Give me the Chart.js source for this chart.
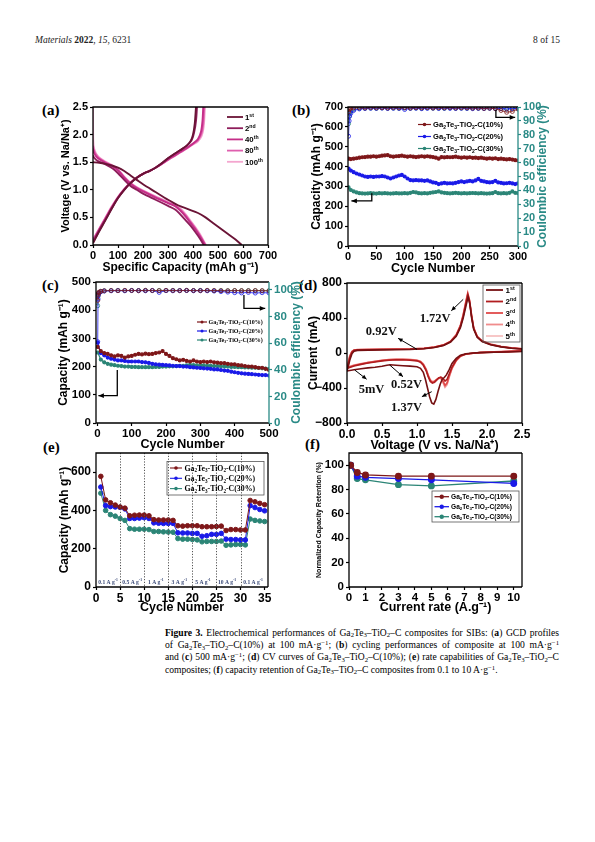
<!DOCTYPE html>
<html><head><meta charset="utf-8">
<title>Figure 3 – Ga2Te3–TiO2–C</title>
<script src="https://cdn.jsdelivr.net/npm/chart.js@4/dist/chart.umd.min.js"></script>
<style>
html,body{margin:0;padding:0;background:#fff;}
body{width:595px;height:842px;position:relative;overflow:hidden;}
canvas{position:absolute;}
.hdr{position:absolute;top:35px;font-family:"Liberation Serif",serif;font-size:9.5px;color:#222;white-space:nowrap;}
.pl{position:absolute;font-family:"Liberation Serif",serif;font-weight:bold;font-size:15px;line-height:15px;color:#000;}
.cap{position:absolute;left:165px;width:394px;top:626.5px;font-family:"Liberation Serif",serif;font-size:9.6px;color:#000;}
.ln{height:12.4px;line-height:12.4px;white-space:nowrap;}
sub,sup{font-size:70%;line-height:0;position:relative;vertical-align:baseline;}
sup{top:-0.45em;} sub{top:0.25em;}
</style>
</head><body>
<div class="hdr" style="left:35px"><i>Materials</i> <b>2022</b>, <i>15</i>, 6231</div>
<div class="hdr" style="right:35px">8 of 15</div>

<div class="pl" style="left:42px;top:103px">(a)</div>
<div class="pl" style="left:292px;top:103px">(b)</div>
<div class="pl" style="left:42px;top:278px">(c)</div>
<div class="pl" style="left:299px;top:278px">(d)</div>
<div class="pl" style="left:43px;top:440px">(e)</div>
<div class="pl" style="left:305px;top:437px">(f)</div>

<div class="cap" id="cap">
<div class="ln j"><b>Figure 3.</b> Electrochemical performances of Ga<sub>2</sub>Te<sub>3</sub>–TiO<sub>2</sub>–C composites for SIBs: (<b>a</b>) GCD profiles</div>
<div class="ln j">of Ga<sub>2</sub>Te<sub>3</sub>–TiO<sub>2</sub>–C(10%) at 100 mA·g<sup>−1</sup>; (<b>b</b>) cycling performances of composite at 100 mA·g<sup>−1</sup></div>
<div class="ln j">and (<b>c</b>) 500 mA·g<sup>−1</sup>; (<b>d</b>) CV curves of Ga<sub>2</sub>Te<sub>3</sub>–TiO<sub>2</sub>–C(10%); (<b>e</b>) rate capabilities of Ga<sub>2</sub>Te<sub>3</sub>–TiO<sub>2</sub>–C</div>
<div class="ln">composites; (<b>f</b>) capacity retention of Ga<sub>2</sub>Te<sub>3</sub>–TiO<sub>2</sub>–C composites from 0.1 to 10 A·g<sup>−1</sup>.</div>
</div>

<script>
// ================= DATA =================
// (a) GCD profiles: [capacity mAh/g, voltage V]
const gcdLabels = ['1^{st}','2^{nd}','40^{th}','80^{th}','100^{th}'];
const dis1 = [[0,1.50],[25,1.49],[50,1.47],[75,1.44],[100,1.40],[125,1.34],[150,1.26],[175,1.18],[200,1.10],[250,0.96],[300,0.82],[340,0.72],[380,0.65],[420,0.58],[450,0.50],[480,0.40],[510,0.30],[540,0.20],[570,0.10],[595,0.0]];
const chg1 = [[0,0.03],[10,0.12],[25,0.25],[50,0.45],[75,0.66],[100,0.85],[125,1.00],[150,1.12],[175,1.22],[200,1.29],[225,1.34],[250,1.40],[275,1.48],[300,1.57],[325,1.65],[350,1.72],[375,1.80],[390,1.88],[400,2.00],[407,2.20],[412,2.50]];
const dis2 = [[0,1.62],[5,1.58],[20,1.52],[50,1.46],[80,1.38],[100,1.30],[125,1.18],[150,1.07],[175,1.00],[200,0.93],[250,0.82],[300,0.71],[330,0.64],[350,0.55],[370,0.45],[390,0.35],[410,0.23],[430,0.10],[443,0.0]];
const chg2 = [[0,0.05],[10,0.13],[25,0.26],[50,0.46],[75,0.66],[100,0.85],[125,1.00],[150,1.12],[175,1.22],[200,1.29],[225,1.34],[250,1.40],[275,1.48],[300,1.57],[325,1.65],[350,1.72],[375,1.80],[395,1.90],[405,2.05],[412,2.25],[416,2.50]];
const dis40 = [[0,1.75],[5,1.66],[20,1.57],[50,1.49],[80,1.42],[100,1.35],[125,1.22],[150,1.11],[175,1.03],[200,0.97],[250,0.86],[300,0.76],[330,0.70],[350,0.62],[370,0.52],[390,0.40],[410,0.28],[430,0.14],[448,0.0]];
const chg40 = [[0,0.08],[10,0.16],[25,0.28],[50,0.48],[75,0.68],[100,0.86],[125,1.01],[150,1.13],[175,1.22],[200,1.29],[225,1.34],[250,1.40],[275,1.47],[300,1.55],[325,1.62],[350,1.69],[375,1.76],[400,1.84],[420,1.92],[432,2.05],[438,2.25],[441,2.50]];
const dis80 = [[0,1.80],[5,1.70],[20,1.59],[50,1.50],[80,1.43],[100,1.36],[125,1.23],[150,1.12],[175,1.04],[200,0.98],[250,0.87],[300,0.77],[330,0.71],[350,0.64],[370,0.54],[390,0.42],[410,0.30],[430,0.16],[450,0.0]];
const chg80 = [[0,0.09],[10,0.17],[25,0.29],[50,0.49],[75,0.69],[100,0.87],[125,1.01],[150,1.13],[175,1.22],[200,1.29],[225,1.34],[250,1.40],[275,1.47],[300,1.54],[325,1.61],[350,1.68],[375,1.75],[400,1.83],[420,1.90],[434,2.02],[441,2.20],[445,2.50]];
const dis100 = [[0,2.50],[1,1.90],[5,1.74],[20,1.61],[50,1.51],[80,1.44],[100,1.37],[125,1.24],[150,1.13],[175,1.05],[200,0.99],[250,0.88],[300,0.78],[330,0.72],[350,0.66],[370,0.56],[390,0.44],[410,0.32],[430,0.18],[452,0.0]];
const chg100 = [[0,0.10],[10,0.18],[25,0.30],[50,0.50],[75,0.70],[100,0.87],[125,1.01],[150,1.13],[175,1.22],[200,1.29],[225,1.34],[250,1.40],[275,1.47],[300,1.54],[325,1.61],[350,1.68],[375,1.75],[400,1.82],[420,1.88],[435,1.98],[443,2.15],[448,2.50]];
const ticksAx = [0,100,200,300,400,500,600,700];
const ticksAy = [0,0.5,1.0,1.5,2.0,2.5];

// series names used in (b), (c), (e), (f)
const seriesLabels = ['Ga_{2}Te_{3}-TiO_{2}-C(10%)','Ga_{2}Te_{3}-TiO_{2}-C(20%)','Ga_{2}Te_{3}-TiO_{2}-C(30%)'];

// (b) cycling at 100 mA/g
const cycB = [1,5,10,15,20,25,30,35,40,45,50,55,60,65,70,75,80,85,90,95,100,105,110,115,120,125,130,135,140,145,150,155,160,165,170,175,180,185,190,195,200,205,210,215,220,225,230,235,240,245,250,255,260,265,270,275,280,285,290,295,300];
const capB10 = [440,438,440,442,445,447,448,450,450,452,450,452,455,456,458,452,450,452,453,455,452,450,452,450,448,450,452,450,452,450,448,445,440,448,446,448,447,448,450,447,445,447,445,447,444,445,443,445,442,440,442,440,442,438,440,438,436,438,435,432,430];
const capB20 = [390,380,372,365,360,355,350,348,350,348,350,350,352,350,345,340,345,350,355,358,350,340,332,330,332,330,330,328,330,325,320,318,312,315,318,315,316,315,318,322,325,322,325,328,325,330,338,328,325,322,320,322,328,320,318,315,316,318,315,312,315];
const capB30 = [295,282,275,270,266,265,264,265,266,265,264,266,265,266,265,264,265,266,265,265,266,265,268,272,270,266,265,266,265,268,270,272,275,270,268,266,265,266,268,266,265,266,265,266,267,266,265,266,265,264,265,266,272,266,265,266,265,268,275,268,266];
const ceCycB = [1,2,3,5,10,20,30,40,50,60,70,80,90,100,110,120,130,140,150,160,170,180,190,200,210,220,230,240,250,260,270,280,290,300];
const ceB10 = [96.5,98.2,98.8,99.2,99.4,99.5,99.3,99.6,99.4,99.5,99.3,99.6,99.4,99.5,99.3,99.5,99.4,99.6,99.3,99.5,99.4,99.6,99.3,99.5,99.4,99.2,99.3,99.0,99.2,98.8,97.5,96.2,96.8,98.5];
const ceB20 = [79,90,93.5,95.5,97.5,98.6,98.9,99.1,99.0,99.2,98.9,99.1,99.0,98.2,99.0,99.1,98.8,99.0,99.2,98.9,99.1,99.0,98.9,99.1,99.0,98.8,99.0,98.9,99.1,98.8,99.0,98.6,98.9,99.0];
const ceB30 = [88,93,95.5,96.8,98.2,98.9,99.1,99.2,99.0,99.3,99.1,99.2,99.0,99.3,99.1,99.2,99.0,99.3,99.1,99.2,99.0,99.3,99.1,99.2,99.0,99.2,99.1,99.0,99.2,99.0,98.8,98.4,98.9,99.1];
const ticksBx = [0,50,100,150,200,250,300];
const ticksBy = [0,100,200,300,400,500,600,700];
const ticksBy2 = [0,10,20,30,40,50,60,70,80,90,100];

// (c) cycling at 500 mA/g
const cycC = [1,10,20,30,40,50,60,70,80,90,100,110,120,130,140,150,160,170,180,190,200,210,220,230,240,250,260,270,280,290,300,310,320,330,340,350,360,370,380,390,400,410,420,430,440,450,460,470,480,490,500];
const capC10 = [270,255,248,245,240,236,240,238,232,236,238,242,245,243,246,244,245,248,250,255,245,238,230,226,222,224,220,218,222,218,216,218,216,218,215,214,212,212,210,208,208,205,204,202,200,200,198,196,196,192,188];
const capC20 = [285,248,240,232,228,225,222,222,220,218,218,218,218,216,215,213,210,208,207,206,205,204,203,202,202,200,200,198,197,196,195,194,193,192,190,190,188,186,185,182,180,178,176,175,174,173,172,171,170,170,168];
const capC30 = [250,225,215,210,207,205,203,202,200,200,199,199,198,198,198,198,198,199,199,200,200,201,201,202,203,203,204,206,205,204,204,204,203,203,202,202,201,200,200,199,199,198,198,197,197,196,196,195,194,193,192];
const ceCycC = [1,2,3,5,10,20,40,60,80,100,120,140,160,180,200,220,240,260,280,300,320,340,360,380,400,420,440,460,480,500];
const ceC10 = [92,96,97.5,98.2,98.8,99.2,99.4,99.3,99.5,99.4,99.3,99.5,99.4,99.3,99.5,99.4,99.3,99.5,99.4,99.3,99.5,99.4,99.3,99.2,99.4,99.3,99.2,99.4,99.3,99.2];
const ceC20 = [61,93,96,97.5,98.5,99.0,99.2,99.3,99.2,99.4,99.3,99.2,99.4,98.0,99.3,99.2,99.3,99.4,99.2,99.3,99.2,99.0,98.6,98.2,97.8,97.6,98.0,97.5,97.8,97.6];
const ceC30 = [88,95,97,98,98.8,99.2,99.4,99.5,99.4,99.5,99.4,99.5,99.4,99.5,99.4,99.5,99.4,99.5,99.4,99.5,99.4,99.3,99.4,99.3,99.4,99.3,99.4,99.3,99.2,99.3];
const ticksCx = [0,100,200,300,400,500];
const ticksCy = [0,100,200,300,400,500];
const ticksCy2 = [0,20,40,60,80,100];

// (d) CV curves: [voltage V, current mA]
const cvLabels = ['1^{st}','2^{nd}','3^{rd}','4^{th}','5^{th}'];
const cv1 = [[2.5,18],[2.3,12],[2.1,8],[1.9,4],[1.8,0],[1.7,-8],[1.62,-25],[1.56,-60],[1.5,-120],[1.46,-190],[1.42,-250],[1.39,-280],[1.36,-300],[1.33,-360],[1.30,-440],[1.27,-530],[1.24,-585],[1.21,-570],[1.18,-500],[1.15,-400],[1.12,-300],[1.09,-220],[1.05,-175],[1.0,-158],[0.9,-150],[0.8,-145],[0.7,-140],[0.62,-135],[0.57,-140],[0.5,-152],[0.4,-162],[0.3,-170],[0.2,-180],[0.1,-192],[0.0,-205],[0.02,-150],[0.04,-80],[0.07,-10],[0.1,20],[0.15,30],[0.3,33],[0.5,36],[0.7,38],[0.9,40],[1.1,48],[1.25,62],[1.38,85],[1.48,125],[1.56,190],[1.62,290],[1.66,400],[1.7,540],[1.73,640],[1.755,560],[1.78,400],[1.81,270],[1.86,180],[1.93,130],[2.05,95],[2.2,70],[2.35,55],[2.5,45]];
const cv2 = [[2.5,22],[2.3,16],[2.1,10],[1.9,4],[1.8,-2],[1.7,-12],[1.62,-35],[1.56,-80],[1.5,-160],[1.46,-240],[1.43,-300],[1.40,-320],[1.37,-290],[1.34,-275],[1.31,-285],[1.28,-310],[1.25,-335],[1.22,-345],[1.19,-325],[1.16,-270],[1.13,-200],[1.09,-140],[1.05,-105],[1.0,-90],[0.9,-82],[0.8,-78],[0.7,-78],[0.6,-82],[0.5,-90],[0.4,-102],[0.3,-115],[0.2,-130],[0.1,-148],[0.0,-175],[0.02,-120],[0.04,-50],[0.07,10],[0.1,30],[0.15,36],[0.3,38],[0.5,40],[0.7,42],[0.9,44],[1.1,52],[1.25,66],[1.38,90],[1.48,130],[1.56,200],[1.62,305],[1.66,420],[1.7,570],[1.725,665],[1.75,590],[1.78,420],[1.81,280],[1.86,185],[1.93,135],[2.05,98],[2.2,72],[2.35,56],[2.5,46]];
const cv3 = [[2.5,24],[2.3,18],[2.1,12],[1.9,5],[1.8,-2],[1.7,-12],[1.62,-35],[1.56,-85],[1.5,-170],[1.46,-260],[1.43,-340],[1.40,-370],[1.37,-320],[1.34,-280],[1.31,-285],[1.28,-305],[1.25,-325],[1.22,-335],[1.19,-315],[1.16,-260],[1.13,-190],[1.09,-130],[1.05,-100],[1.0,-85],[0.9,-78],[0.8,-74],[0.7,-74],[0.6,-78],[0.5,-86],[0.4,-98],[0.3,-110],[0.2,-125],[0.1,-143],[0.0,-170],[0.02,-110],[0.04,-40],[0.07,15],[0.1,32],[0.15,38],[0.3,40],[0.5,42],[0.7,43],[0.9,45],[1.1,53],[1.25,67],[1.38,92],[1.48,132],[1.56,205],[1.62,310],[1.66,430],[1.7,585],[1.725,675],[1.75,600],[1.78,425],[1.81,285],[1.86,188],[1.93,137],[2.05,100],[2.2,74],[2.35,58],[2.5,48]];
const cv4 = [[2.5,26],[2.3,19],[2.1,13],[1.9,6],[1.8,-2],[1.7,-12],[1.62,-36],[1.56,-88],[1.5,-175],[1.46,-270],[1.43,-355],[1.40,-385],[1.37,-330],[1.34,-285],[1.31,-288],[1.28,-305],[1.25,-322],[1.22,-330],[1.19,-310],[1.16,-255],[1.13,-185],[1.09,-125],[1.05,-96],[1.0,-82],[0.9,-75],[0.8,-72],[0.7,-72],[0.6,-76],[0.5,-84],[0.4,-96],[0.3,-108],[0.2,-122],[0.1,-140],[0.0,-166],[0.02,-105],[0.04,-35],[0.07,18],[0.1,34],[0.15,39],[0.3,41],[0.5,43],[0.7,44],[0.9,46],[1.1,54],[1.25,68],[1.38,93],[1.48,134],[1.56,208],[1.62,315],[1.66,438],[1.7,595],[1.725,685],[1.75,605],[1.78,430],[1.81,288],[1.86,190],[1.93,138],[2.05,101],[2.2,75],[2.35,59],[2.5,49]];
const cv5 = [[2.5,28],[2.3,20],[2.1,14],[1.9,6],[1.8,-2],[1.7,-13],[1.62,-38],[1.56,-92],[1.5,-180],[1.46,-280],[1.43,-365],[1.40,-395],[1.37,-338],[1.34,-290],[1.31,-290],[1.28,-305],[1.25,-318],[1.22,-325],[1.19,-305],[1.16,-250],[1.13,-180],[1.09,-122],[1.05,-94],[1.0,-80],[0.9,-73],[0.8,-70],[0.7,-70],[0.6,-74],[0.5,-82],[0.4,-94],[0.3,-106],[0.2,-120],[0.1,-138],[0.0,-162],[0.02,-100],[0.04,-30],[0.07,20],[0.1,35],[0.15,40],[0.3,42],[0.5,44],[0.7,45],[0.9,47],[1.1,55],[1.25,69],[1.38,94],[1.48,136],[1.56,210],[1.62,320],[1.66,445],[1.7,600],[1.725,690],[1.75,610],[1.78,435],[1.81,290],[1.86,192],[1.93,140],[2.05,102],[2.2,76],[2.35,60],[2.5,50]];
const ticksDx = [0,0.5,1.0,1.5,2.0,2.5];
const ticksDy = [-800,-400,0,400,800];
const cvNotes = [{x:1.26,y:400,t:'1.72V'},{x:0.49,y:260,t:'0.92V'},{x:0.35,y:-405,t:'5mV'},{x:0.85,y:-345,t:'0.52V'},{x:0.85,y:-612,t:'1.37V'}];
const cvArrows = [[[1.66,613],[1.49,483]],[[1.0,42],[0.73,168]],[[0.11,-194],[0.28,-300]],[[0.61,-137],[0.80,-271]],[[1.21,-442],[1.07,-499]]];

// (e) rate capability
const cycE = [1,2,3,4,5,6,7,8,9,10,11,12,13,14,15,16,17,18,19,20,21,22,23,24,25,26,27,28,29,30,31,32,33,34,35];
const rateE10 = [578,455,440,428,418,412,372,375,376,376,372,352,350,350,350,348,320,318,320,320,320,315,315,315,316,318,295,300,300,298,298,452,445,437,430];
const rateE20 = [522,425,420,418,416,408,358,358,360,362,358,335,333,332,332,332,283,282,282,280,280,265,268,275,275,280,250,248,248,246,246,425,415,405,398];
const rateE30 = [490,400,378,370,358,348,305,302,302,302,300,290,290,288,287,286,253,250,250,248,246,236,238,238,238,240,218,220,222,222,220,355,348,345,342];
const rateDividers = [5,10,15,20,25,30];
const rateNames = ['0.1 A g^{-1}','0.5 A g^{-1}','1 A g^{-1}','3 A g^{-1}','5 A g^{-1}','10 A g^{-1}','0.1 A g^{-1}'];
const rateNameX = [2.5,7.5,12.4,17.3,22.2,27.2,32.6];
const ticksEx = [0,5,10,15,20,25,30,35];
const ticksEy = [0,200,400,600];

// (f) capacity retention
const rateF = [0.1,0.5,1,3,5,10];
const retF10 = [100,94,92,91,91,91];
const retF20 = [100,91,90,89,88,85];
const retF30 = [100,89,88,84,83,87];
const ticksFx = [0,1,2,3,4,5,6,7,8,9,10];
const ticksFy = [0,20,40,60,80,100];

// ================= STYLE / HELPERS =================
const C10 = '#7e1719', C20 = '#1a1ae8', C30 = '#2b8576', TEAL = '#2a8a86';
const gcdColors = ['#6a1436','#8e1d5b','#c52e88','#df5fae','#f4a6cf'];
const cvColors = ['#751012','#b11d1f','#e04a4a','#f08c8c','#f7c1c1'];
const SANS = '"Liberation Sans", Arial, sans-serif';
const SERIF = '"Liberation Serif", "Times New Roman", serif';
Chart.defaults.font.family = SANS;
Chart.defaults.font.weight = 'bold';
Chart.defaults.color = '#000';

const P = arr => arr.map(p => ({x:p[0], y:p[1]}));
const XY = (xs, ys) => xs.map((x,i) => ({x, y:ys[i]}));

function rich(ctx, str, x, y, o){
  const parts=[]; const re=/([_^])\{([^}]*)\}/g; let last=0, m;
  while((m=re.exec(str))){ if(m.index>last) parts.push({t:str.slice(last,m.index),k:''}); parts.push({t:m[2],k:m[1]}); last=re.lastIndex; }
  if(last<str.length) parts.push({t:str.slice(last),k:''});
  const f = k => `${o.weight||'bold'} ${(k?o.size*0.66:o.size).toFixed(2)}px ${o.family||SANS}`;
  let tw=0; parts.forEach(p=>{ctx.font=f(p.k); p.w=ctx.measureText(p.t).width; tw+=p.w;});
  let cx = o.align==='center' ? x-tw/2 : (o.align==='right' ? x-tw : x);
  ctx.fillStyle=o.color||'#000'; ctx.textAlign='left'; ctx.textBaseline='alphabetic';
  parts.forEach(p=>{ctx.font=f(p.k); const dy = p.k==='^' ? -o.size*0.38 : (p.k==='_' ? o.size*0.22 : 0); ctx.fillText(p.t, cx, y+o.size*0.35+dy); cx+=p.w;});
}
function head(ctx,x1,y1,x2,y2,s){
  const a=Math.atan2(y2-y1,x2-x1);
  ctx.beginPath(); ctx.moveTo(x2,y2);
  ctx.lineTo(x2-s*Math.cos(a-0.42), y2-s*Math.sin(a-0.42));
  ctx.lineTo(x2-s*Math.cos(a+0.42), y2-s*Math.sin(a+0.42));
  ctx.closePath(); ctx.fill();
}

const deco = {
  id:'deco',
  afterDatasetsDraw(chart){
    const d = chart.canvas.$deco; if(!d) return;
    const ctx = chart.ctx, a = chart.chartArea, sx = chart.scales.x;
    const py = (id,v) => chart.scales[id].getPixelForValue(v);
    ctx.save();
    if(d.vlines){
      ctx.strokeStyle=d.vlines.color; ctx.lineWidth=1; ctx.setLineDash(d.vlines.dash);
      d.vlines.xs.forEach(v=>{const X=Math.round(sx.getPixelForValue(v))+0.5; ctx.beginPath(); ctx.moveTo(X,a.top); ctx.lineTo(X,a.bottom); ctx.stroke();});
      ctx.setLineDash([]);
    }
    if(d.arrows){
      d.arrows.forEach(ar=>{
        const pts = ar.pts.map(p=>[sx.getPixelForValue(p[0]), py(ar.y||'y',p[1])]);
        ctx.strokeStyle=ar.color||'#000'; ctx.fillStyle=ar.color||'#000'; ctx.lineWidth=ar.w||1.3;
        ctx.beginPath(); pts.forEach((p,i)=> i?ctx.lineTo(p[0],p[1]):ctx.moveTo(p[0],p[1])); ctx.stroke();
        const n=pts.length; head(ctx,pts[n-2][0],pts[n-2][1],pts[n-1][0],pts[n-1][1],ar.s||6);
      });
    }
    if(d.notes){
      d.notes.forEach(nt=>rich(ctx, nt.t, sx.getPixelForValue(nt.x), py(nt.yID||'y',nt.y), {size:nt.size, family:nt.family, color:nt.color, align:'center', weight:'bold'}));
    }
    // frame
    ctx.lineWidth=1.3; ctx.strokeStyle='#000';
    ctx.beginPath(); ctx.moveTo(a.right,a.top); ctx.lineTo(a.left,a.top); ctx.lineTo(a.left,a.bottom); ctx.lineTo(a.right,a.bottom); ctx.stroke();
    ctx.strokeStyle=d.rightColor||'#000'; ctx.beginPath(); ctx.moveTo(a.right,a.top); ctx.lineTo(a.right,a.bottom); ctx.stroke();
    // page-coordinate items
    ctx.translate(-d.L,-d.T);
    if(d.legend){
      const g=d.legend;
      if(g.box){ ctx.strokeStyle='#555'; ctx.lineWidth=0.8; ctx.strokeRect(g.box[0],g.box[1],g.box[2],g.box[3]); }
      g.items.forEach((it,i)=>{
        const ds=chart.data.datasets[it.ds]; const yy=g.y+i*g.dy;
        ctx.strokeStyle=ds.borderColor; ctx.lineWidth=g.lw||1.6;
        ctx.beginPath(); ctx.moveTo(g.x,yy); ctx.lineTo(g.x+g.len,yy); ctx.stroke();
        if(g.marker){ ctx.fillStyle=ds.borderColor; ctx.beginPath(); ctx.arc(g.x+g.len/2,yy,g.marker,0,Math.PI*2); ctx.fill(); }
        rich(ctx, it.t, g.x+g.len+g.gap, yy, {size:g.size, family:g.family, color:'#000'});
      });
    }
    if(d.rtitle){
      const r=d.rtitle; ctx.save(); ctx.translate(r.x, d.T+(a.top+a.bottom)/2); ctx.rotate(-Math.PI/2);
      ctx.font=`bold ${r.size}px ${SANS}`; ctx.fillStyle=r.color; ctx.textAlign='center'; ctx.textBaseline='middle';
      ctx.fillText(r.text,0,0); ctx.restore();
    }
    ctx.restore();
  }
};
Chart.register(deco);

function axis(o, fitSize){
  return {
    type:'linear', position:o.pos, min:o.min, max:o.max,
    afterBuildTicks: s => { s.ticks = o.ticks.map(v=>({value:v})); },
    afterFit: s => { if(s.isHorizontal()) s.height = fitSize; else s.width = fitSize; s.paddingLeft=0; s.paddingRight=0; s.paddingTop=0; s.paddingBottom=0; },
    ticks:{ color:o.color||'#000', font:{size:o.size, weight:'bold'}, padding:o.pad==null?2:o.pad, autoSkip:false, maxRotation:0, minRotation:0,
      callback: v => o.dec!=null ? (v<0?'\u2212':'')+Math.abs(v).toFixed(o.dec) : (v<0?'\u2212'+Math.abs(v):String(v)) },
    grid:{ display:true, drawOnChartArea:false, drawTicks:true, tickLength:3, tickWidth:1.2, color:o.color||'#000' },
    border:{ display:false },
    title:{ display:!!o.title, text:o.title, color:o.color||'#000', font:{size:o.tsize, weight:'bold'}, padding:0 }
  };
}

function panel(g, datasets, deco){
  const lhY=g.yts*1.2, lhX=g.xts*1.2;
  const L=Math.round(g.ytx - lhY/2), T=Math.round(g.y0-15);
  const B=Math.round(g.xty + lhX/2), R=Math.round(g.x1 + (g.right?42:30));
  const cv=document.createElement('canvas');
  cv.width=R-L; cv.height=B-T;
  Object.assign(cv.style,{left:L+'px',top:T+'px',width:(R-L)+'px',height:(B-T)+'px'});
  document.body.appendChild(cv);
  deco.L=L; deco.T=T; cv.$deco=deco;
  const scales={
    x: axis(Object.assign({pos:'bottom', size:g.tick, tsize:g.xts, pad:1}, g.x), B-g.y1),
    y: axis(Object.assign({pos:'left', size:g.tick, tsize:g.yts}, g.y), g.x0-L)
  };
  if(g.right) scales.y2 = axis(Object.assign({pos:'right', size:g.tick, color:TEAL}, g.y2), R-g.x1);
  new Chart(cv,{
    type:'line',
    data:{datasets},
    options:{
      responsive:false, animation:false, devicePixelRatio:1, events:[],
      layout:{padding:{top:g.y0-T, right:g.right?0:R-g.x1, left:0, bottom:0}},
      plugins:{legend:{display:false}, tooltip:{enabled:false}},
      scales
    }
  });
}

function lineDS(label, data, color, o={}){
  return Object.assign({label, data, borderColor:color, backgroundColor:color, pointBackgroundColor:color, pointBorderColor:color,
    borderWidth:1.2, pointRadius:0, tension:0, fill:false, yAxisID:'y'}, o);
}

// ---------- (a) ----------
const gcdPairs = [[dis1,chg1],[dis2,chg2],[dis40,chg40],[dis80,chg80],[dis100,chg100]];
const dsA=[];
gcdPairs.forEach((pr,i)=>{
  dsA.push(lineDS(gcdLabels[i], P(pr[0]), gcdColors[i], {borderWidth:1.9, tension:0.3}));
  dsA.push(lineDS(gcdLabels[i], P(pr[1]), gcdColors[i], {borderWidth:1.9, tension:0.3}));
});
panel({x0:93,x1:268,y0:107,y1:245,ytx:66,yts:11,xty:268,xts:12,tick:11,
  x:{min:0,max:700,ticks:ticksAx,title:'Specific Capacity (mAh g\u207B\u00B9)'},
  y:{min:0,max:2.5,ticks:ticksAy,dec:1,title:'Voltage (V vs. Na/Na\u207A)'}},
  dsA,
  {legend:{x:227,y:117,dy:11.2,len:16,gap:2,size:7.8,family:SANS,lw:1.8,items:gcdLabels.map((t,i)=>({ds:i*2,t}))}});

// ---------- (b) ----------
const dsB=[
  lineDS(seriesLabels[0], XY(cycB,capB10), C10, {pointRadius:1.5, borderWidth:1.2}),
  lineDS(seriesLabels[1], XY(cycB,capB20), C20, {pointRadius:1.5, borderWidth:1.2}),
  lineDS(seriesLabels[2], XY(cycB,capB30), C30, {pointRadius:1.5, borderWidth:1.2}),
  lineDS('CE 10%', XY(ceCycB,ceB10), C10, {yAxisID:'y2', pointRadius:2, pointBackgroundColor:'rgba(0,0,0,0)', pointBorderWidth:0.8, borderWidth:0.8}),
  lineDS('CE 20%', XY(ceCycB,ceB20), C20, {yAxisID:'y2', pointRadius:2, pointBackgroundColor:'rgba(0,0,0,0)', pointBorderWidth:0.8, borderWidth:0.8}),
  lineDS('CE 30%', XY(ceCycB,ceB30), C30, {yAxisID:'y2', pointRadius:2, pointBackgroundColor:'rgba(0,0,0,0)', pointBorderWidth:0.8, borderWidth:0.8})
];
panel({x0:348,x1:518,y0:107,y1:246,ytx:316,yts:12,xty:268,xts:12.5,tick:11,right:true,
  x:{min:0,max:300,ticks:ticksBx,title:'Cycle Number'},
  y:{min:0,max:700,ticks:ticksBy,title:'Capacity (mAh g\u207B\u00B9)'},
  y2:{min:0,max:100,ticks:ticksBy2}},
  dsB,
  {rightColor:TEAL, rtitle:{text:'Coulombic efficiency (%)',x:543,size:12,color:TEAL},
   arrows:[{pts:[[42,266],[42,227],[6,227]],y:'y'},{pts:[[261,98],[261,92.5],[295,92.5]],y:'y2'}],
   legend:{x:418,y:124.5,dy:12,len:13,gap:2,size:7.6,family:SANS,marker:1.8,lw:1.2,items:[0,1,2].map(i=>({ds:i,t:seriesLabels[i]}))}});

// ---------- (c) ----------
const dsC=[
  lineDS(seriesLabels[0], XY(cycC,capC10), C10, {pointRadius:1.5, borderWidth:1.2}),
  lineDS(seriesLabels[1], XY(cycC,capC20), C20, {pointRadius:1.5, borderWidth:1.2}),
  lineDS(seriesLabels[2], XY(cycC,capC30), C30, {pointRadius:1.5, borderWidth:1.2}),
  lineDS('CE 10%', XY(ceCycC,ceC10), C10, {yAxisID:'y2', pointRadius:2, pointBackgroundColor:'rgba(0,0,0,0)', pointBorderWidth:0.8, borderWidth:0.8}),
  lineDS('CE 20%', XY(ceCycC,ceC20), C20, {yAxisID:'y2', pointRadius:2, pointBackgroundColor:'rgba(0,0,0,0)', pointBorderWidth:0.8, borderWidth:0.8}),
  lineDS('CE 30%', XY(ceCycC,ceC30), C30, {yAxisID:'y2', pointRadius:2, pointBackgroundColor:'rgba(0,0,0,0)', pointBorderWidth:0.8, borderWidth:0.8})
];
panel({x0:96,x1:269,y0:282,y1:423,ytx:63,yts:12,xty:444,xts:12.5,tick:11.5,right:true,
  x:{min:-4,max:500,ticks:ticksCx,title:'Cycle Number'},
  y:{min:0,max:500,ticks:ticksCy,title:'Capacity (mAh g\u207B\u00B9)'},
  y2:{min:0,max:105.8,ticks:ticksCy2}},
  dsC,
  {rightColor:TEAL, rtitle:{text:'Coulombic efficiency (%)',x:297,size:12,color:TEAL},
   arrows:[{pts:[[58,188],[58,97],[3,97]],y:'y'},{pts:[[427,96],[427,86],[489,86]],y:'y2'}],
   legend:{x:197,y:322,dy:9,len:10,gap:1.5,size:6,family:SERIF,marker:1.5,lw:1.2,items:[0,1,2].map(i=>({ds:i,t:seriesLabels[i]}))}});

// ---------- (d) ----------
const cvSets=[cv1,cv2,cv3,cv4,cv5];
const dsD = cvSets.map((c,i)=>lineDS(cvLabels[i], P(c), cvColors[i], {borderWidth:1.6}));
panel({x0:347,x1:522,y0:283,y1:423,ytx:313,yts:12,xty:445.5,xts:12.5,tick:12,
  x:{min:0,max:2.5,ticks:ticksDx,dec:1,title:'Voltage (V vs. Na/Na\u207A)'},
  y:{min:-800,max:800,ticks:ticksDy,title:'Current (mA)'}},
  dsD,
  {notes:cvNotes.map(n=>({x:n.x,y:n.y,t:n.t,size:12.5,family:SERIF,color:'#111'})),
   arrows:cvArrows.map(a=>({pts:a,y:'y',w:1,s:5})),
   legend:{x:486,y:290,dy:11.5,len:17,gap:2.5,size:8,family:SANS,lw:1.8,box:[483,285,37,57],items:cvLabels.map((t,i)=>({ds:i,t}))}});

// ---------- (e) ----------
const dsE=[
  lineDS(seriesLabels[0], XY(cycE,rateE10), C10, {pointRadius:2.3, borderWidth:1}),
  lineDS(seriesLabels[1], XY(cycE,rateE20), C20, {pointRadius:2.3, borderWidth:1}),
  lineDS(seriesLabels[2], XY(cycE,rateE30), C30, {pointRadius:2.3, borderWidth:1})
];
panel({x0:96,x1:268,y0:453,y1:587,ytx:64,yts:12,xty:607.5,xts:12.5,tick:12,
  x:{min:0,max:35.7,ticks:ticksEx,title:'Cycle Number'},
  y:{min:0,max:700,ticks:ticksEy,title:'Capacity (mAh g\u207B\u00B9)'}},
  dsE,
  {vlines:{xs:rateDividers,color:'#555',dash:[1.2,1.6]},
   notes:rateNames.map((t,i)=>({x:rateNameX[i],y:28,t,size:5.6,family:SERIF,color:'#3a4a78'})),
   legend:{x:170,y:468,dy:10.3,len:12,gap:2.5,size:7.8,family:SERIF,marker:1.8,lw:1.1,box:[167,461.5,97,33.5],items:[0,1,2].map(i=>({ds:i,t:seriesLabels[i]}))}});

// ---------- (f) ----------
const dsF=[
  lineDS(seriesLabels[0], XY(rateF,retF10), C10, {pointRadius:2.8, borderWidth:1.3}),
  lineDS(seriesLabels[1], XY(rateF,retF20), C20, {pointRadius:2.8, borderWidth:1.3}),
  lineDS(seriesLabels[2], XY(rateF,retF30), C30, {pointRadius:2.8, borderWidth:1.3})
];
panel({x0:349,x1:522,y0:453,y1:587,ytx:319.5,yts:7,xty:607.5,xts:12.5,tick:11.5,
  x:{min:0,max:10.5,ticks:ticksFx,title:'Current rate (A.g\u207B\u00B9)'},
  y:{min:0,max:110,ticks:ticksFy,title:'Normalized Capacity Retention (%)'}},
  dsF,
  {legend:{x:434.5,y:496.7,dy:10,len:14.5,gap:2,size:6.6,family:SANS,marker:2.2,lw:1.3,box:[432,491,87,31],items:[0,1,2].map(i=>({ds:i,t:seriesLabels[i]}))}});

// ---------- caption justification ----------
document.querySelectorAll('#cap .j').forEach(div=>{
  const r=document.createRange(); r.selectNodeContents(div);
  const w=r.getBoundingClientRect().width;
  const n=(div.textContent.match(/ /g)||[]).length;
  if(n) div.style.wordSpacing=((394-w)/n).toFixed(3)+'px';
});
</script>
</body></html>
